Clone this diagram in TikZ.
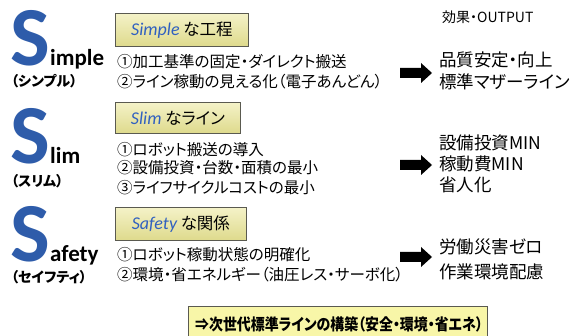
\documentclass[tikz,border=0pt]{standalone}
\usepackage{fontspec}
\setmainfont{Carlito}
\newfontfamily\jp{Noto Sans CJK JP}[RawFeature=+palt]
\newfontfamily\jpn{Noto Sans CJK JP}[RawFeature=+palt,FakeStretch=0.87]
\definecolor{sblue}{HTML}{2E5CAA}
\definecolor{lblue}{HTML}{3060C0}
\definecolor{boxtop}{HTML}{F4F2C8}
\definecolor{boxbot}{HTML}{DEDA8C}
\definecolor{boxline}{HTML}{5A5A50}
\definecolor{botfill}{HTML}{F8F6A8}
\begin{document}
\begin{tikzpicture}[x=1pt,y=-1pt,
  bigS/.style={text=sblue,font=\fontsize{84}{84}\selectfont\bfseries,inner sep=0,anchor=base west,text depth=0pt},
  tail/.style={font=\fontsize{23}{23}\selectfont\bfseries,inner sep=0,anchor=base west},
  kana/.style={font=\jp\fontsize{14}{14}\selectfont\bfseries,inner sep=0,anchor=west},
  headbox/.style={draw=boxline,line width=0.8pt,top color=boxtop,bottom color=boxbot,anchor=north west,inner sep=0,font=\jp\fontsize{16.5}{16.5}\selectfont},
  item/.style={font=\jp\fontsize{15.5}{15.5}\selectfont,inner sep=0,anchor=west},
  res/.style={font=\jp\fontsize{17.5}{17.5}\selectfont,inner sep=0,anchor=west},
  lat/.style={text=lblue,font=\fontspec{Carlito}\fontsize{18}{18}\selectfont\itshape},
  blockarrow/.style={fill=black}
]
\useasboundingbox (0,0) rectangle (576,336);
% Simple
\node[bigS] (s1) at (10,66) {S};
\node[tail] (t1) at (50,66) {imple};
\node[kana] (k1) at (11,81) {（シンプル）};
\node[headbox,minimum width=133pt,minimum height=33pt] (b1) at (115,13) {\textcolor{lblue}{\fontspec{Carlito}\fontsize{18}{18}\selectfont\itshape Simple} な工程};
\node[item] (i11) at (117,62) {①加工基準の固定・ダイレクト搬送};
\node[item] (i12) at (117,82) {②ライン稼動の見える化（電子あんどん）};
\coordinate (a1) at (400,73);
\fill[blockarrow,shift={(a1)}] (0,-5) -- (21,-5) -- (21,-10) -- (32,0) -- (21,10) -- (21,5) -- (0,5) -- cycle;
\node[font=\jp\fontsize{14}{14}\selectfont,inner sep=0,anchor=west] (h) at (442,17) {効果・OUTPUT};
\node[res] (r11) at (439,60) {品質安定・向上};
\node[res] (r12) at (439,82) {標準マザーライン};
% Slim
\node[bigS] (s2) at (10,164) {S};
\node[tail] (t2) at (50,164) {lim};
\node[kana] (k2) at (11,181) {（スリム）};
\node[headbox,minimum width=125pt,minimum height=31pt] (b2) at (115,102) {\textcolor{lblue}{\fontspec{Carlito}\fontsize{18}{18}\selectfont\itshape Slim} なライン};
\node[item] (i21) at (117,150) {①ロボット搬送の導入};
\node[item] (i22) at (117,168) {②設備投資・台数・面積の最小};
\node[item] (i23) at (117,188) {③ライフサイクルコストの最小};
\coordinate (a2) at (400,165);
\fill[blockarrow,shift={(a2)}] (0,-5) -- (21,-5) -- (21,-10) -- (32,0) -- (21,10) -- (21,5) -- (0,5) -- cycle;
\node[res] (r21) at (439,143) {設備投資MIN};
\node[res] (r22) at (439,164) {稼動費MIN};
\node[res] (r23) at (439,185) {省人化};
% Safety
\node[bigS] (s3) at (10,262) {S};
\node[tail] (t3) at (50,262) {afety};
\node[kana] (k3) at (11,277) {（セイフティ）};
\node[headbox,minimum width=131pt,minimum height=33pt] (b3) at (115,207) {\textcolor{lblue}{\fontspec{Carlito}\fontsize{18}{18}\selectfont\itshape Safety} な関係};
\node[item] (i31) at (117,255) {①ロボット稼動状態の明確化};
\node[item] (i32) at (117,275) {②環境・省エネルギー（油圧レス・サーボ化）};
\coordinate (a3) at (400,257);
\fill[blockarrow,shift={(a3)}] (0,-5) -- (21,-5) -- (21,-10) -- (32,0) -- (21,10) -- (21,5) -- (0,5) -- cycle;
\node[res] (r31) at (439,247) {労働災害ゼロ};
\node[res] (r32) at (439,272) {作業環境配慮};
% bottom
\node[draw=boxline,line width=0.8pt,fill=botfill,anchor=north west,minimum width=299pt,minimum height=34pt,inner sep=0] (bot) at (188,306) {};
\node[font=\jpn\fontsize{16}{16}\selectfont\bfseries,inner sep=0,anchor=west] (bt) at (195,324) {⇒次世代標準ラインの構築（安全・環境・省エネ）};
\end{tikzpicture}
\end{document}
